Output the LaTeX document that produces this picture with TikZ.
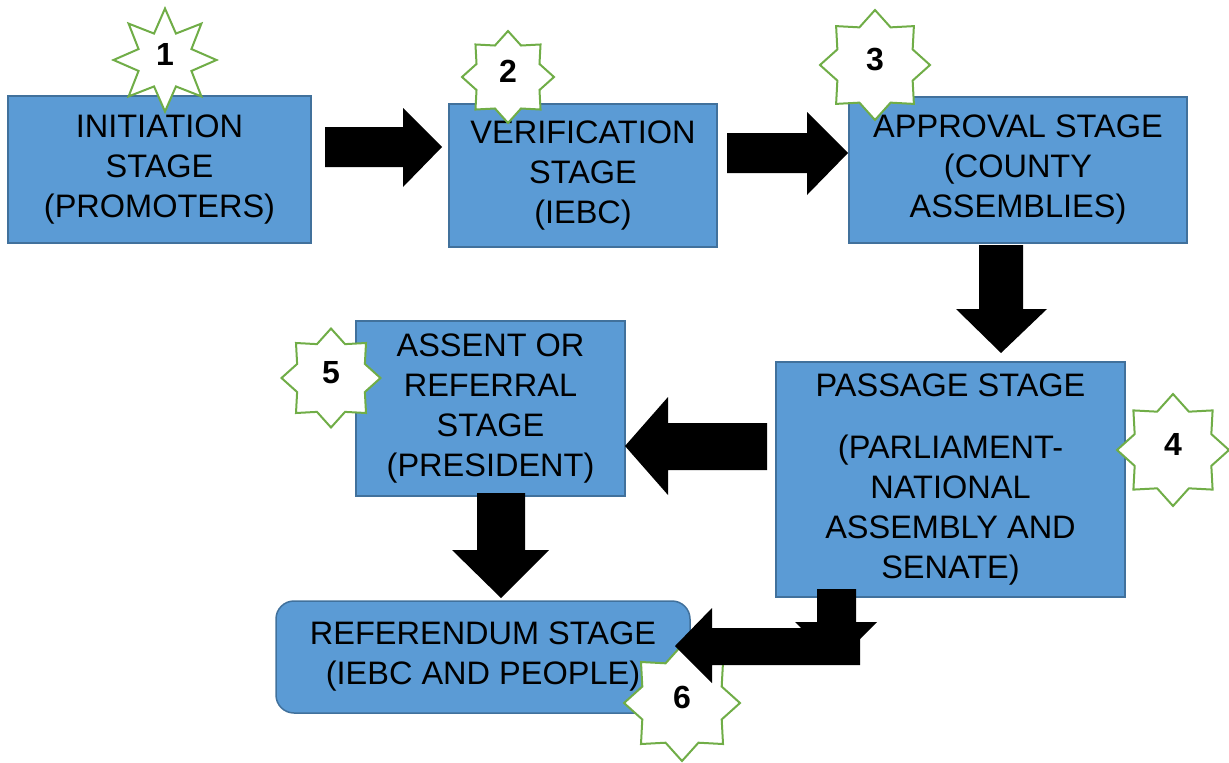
\documentclass[tikz,border=0pt]{standalone}
\usepackage{fontspec}
\setmainfont{Liberation Sans}
\usetikzlibrary{shapes.geometric}
\definecolor{boxblue}{HTML}{5B9BD5}
\definecolor{boxedge}{HTML}{41719C}
\definecolor{stargreen}{HTML}{70AD47}
\tikzset{
  stagebox/.style={draw=boxedge, fill=boxblue, line width=1.5pt, align=center,
    font=\fontsize{32.5}{40}\selectfont, inner sep=0pt},
  badge/.style={star, star points=8, star point ratio=1.35, draw=stargreen, fill=white,
    line width=2pt, font=\fontsize{32}{32}\selectfont\bfseries, inner sep=0pt, text depth=12pt},
  blockarrow/.style={fill=black, draw=none}
}
\begin{document}
\begin{tikzpicture}[x=1pt,y=-1pt]
\useasboundingbox (0,0) rectangle (1229,763);
% stage boxes
\node[stagebox, minimum width=303pt, minimum height=147pt] (b1) at (159.5,169.5)
  {INITIATION\\STAGE\\(PROMOTERS)};
\node[stagebox, minimum width=268pt, minimum height=143pt] (b2) at (583,175.5)
  {VERIFICATION\\STAGE\\(IEBC)};
\node[stagebox, minimum width=338pt, minimum height=146pt] (b3) at (1018,170)
  {APPROVAL STAGE\\(COUNTY\\ASSEMBLIES)};
\node[stagebox, minimum width=349pt, minimum height=235pt] (b4) at (950.5,479.5)
  {PASSAGE STAGE\\[22pt](PARLIAMENT-\\NATIONAL\\ASSEMBLY AND\\SENATE)};
\node[stagebox, minimum width=269pt, minimum height=175pt] (b5) at (490.5,408.5)
  {ASSENT OR\\REFERRAL\\STAGE\\(PRESIDENT)};
\node[stagebox, rounded corners=18pt, minimum width=414pt, minimum height=112pt] (b6) at (483,657)
  {REFERENDUM STAGE\\(IEBC AND PEOPLE)};
% badges
\node[badge, star point ratio=1.8, minimum size=103pt] (s1) at (165,60) {1};
\node[badge, minimum size=92pt] (s2) at (508,77) {2};
\node[badge, minimum size=110pt] (s3) at (875,65) {3};
\node[badge, minimum size=112pt] (s4) at (1173,450) {4};
\node[badge, minimum size=99pt] (s5) at (331,378) {5};
\node[badge, minimum size=116pt] (s6) at (682,703) {6};
% block arrows
\fill[blockarrow] (325,127) -- (403,127) -- (403,108) -- (442,147) -- (403,187) -- (403,167) -- (325,167) -- cycle;
\fill[blockarrow] (727,133) -- (807,133) -- (807,112) -- (848,153) -- (807,195) -- (807,173) -- (727,173) -- cycle;
\fill[blockarrow] (979,245) -- (1023,245) -- (1023,309) -- (1047,309) -- (1001,353) -- (956,309) -- (979,309) -- cycle;
\fill[blockarrow] (767,423) -- (668,423) -- (668,397) -- (625,446) -- (668,495) -- (668,470) -- (767,470) -- cycle;
\fill[blockarrow] (477,493) -- (525,493) -- (525,550) -- (549,550) -- (501,598) -- (452,550) -- (477,550) -- cycle;
\fill[blockarrow] (817,589) -- (856,589) -- (856,622) -- (877,622) -- (836,663) -- (795,622) -- (817,622) -- cycle;
\fill[blockarrow] (860,628) -- (712,628) -- (712,608) -- (675,646) -- (712,683) -- (712,665) -- (860,665) -- cycle;
\end{tikzpicture}
\end{document}
